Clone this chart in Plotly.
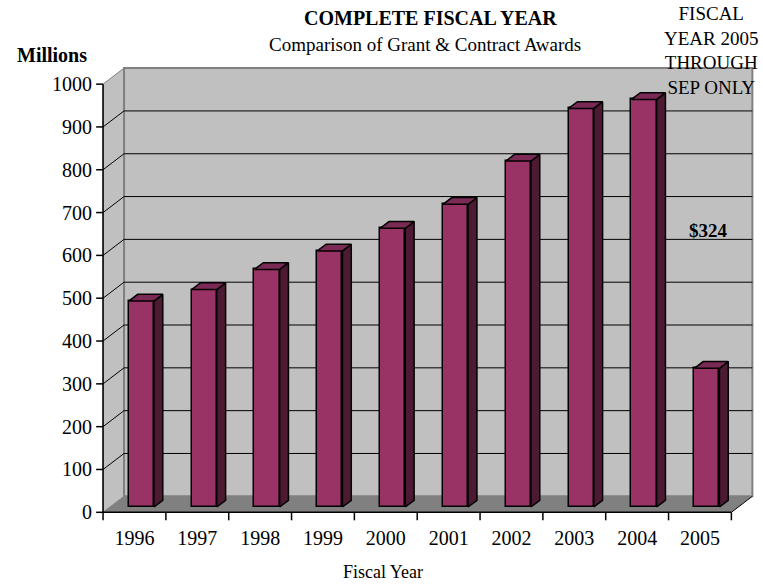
import plotly.graph_objects as go

# ---- data ----
years = ["1996", "1997", "1998", "1999", "2000", "2001", "2002", "2003", "2004", "2005"]
awards = [481, 508, 555, 598, 651, 707, 808, 931, 952, 324]
y_ticks = [0, 100, 200, 300, 400, 500, 600, 700, 800, 900, 1000]
grid_vals = [100, 200, 300, 400, 500, 600, 700, 800, 900]

# ---- pseudo-3D geometry (in data units) ----
DX = 0.334      # depth offset in category units
DY = 37.4       # depth offset in value units
D0, D1 = 0.33, 0.75   # bar depth span (fraction of full depth)
BW = 0.40       # bar width (category units)
N = len(years)
YMAX = 1000

FRONT = "#993366"
SIDE = "#4D1A33"
TOP = "#7A2A55"
WALL = "#C0C0C0"
FLOOR = "#808080"
FONT = "Liberation Serif"

W, H = 763, 584
L, T = 93, 67
R = W - 753.6
B = H - 522.7
PW, PH = W - L - R, H - T - B


def px(x, y):
    return (x - L) / PW, (H - B - y) / PH


shapes = []
# left side wall
shapes.append(dict(type="path", layer="below",
                   path=f"M0,0 L{DX},{DY} L{DX},{YMAX + DY} L0,{YMAX} Z",
                   fillcolor=WALL, line=dict(color="#808080", width=1)))
# back wall
shapes.append(dict(type="rect", layer="below", x0=DX, y0=DY, x1=N + DX, y1=YMAX + DY,
                   fillcolor=WALL, line=dict(color="#808080", width=2)))
# floor
shapes.append(dict(type="path", layer="below",
                   path=f"M0,0 L{N},0 L{N + DX},{DY} L{DX},{DY} Z",
                   fillcolor=FLOOR, line=dict(width=0)))
shapes.append(dict(type="line", layer="below", x0=N, y0=0, x1=N + DX, y1=DY,
                   line=dict(color="black", width=1)))
# gridlines
for v in grid_vals:
    shapes.append(dict(type="line", layer="below", x0=0, y0=v, x1=DX, y1=v + DY,
                       line=dict(color="black", width=1)))
    shapes.append(dict(type="line", layer="below", x0=DX, y0=v + DY, x1=N + DX, y1=v + DY,
                       line=dict(color="black", width=1)))
# axis lines
shapes.append(dict(type="line", x0=0, y0=0, x1=0, y1=YMAX, line=dict(color="black", width=1.5)))
shapes.append(dict(type="line", x0=0, y0=0, x1=N, y1=0, line=dict(color="black", width=1.5)))
# tick marks
for v in y_ticks:
    shapes.append(dict(type="line", x0=-0.11, y0=v, x1=0, y1=v, line=dict(color="black", width=1.5)))
for i in range(N + 1):
    shapes.append(dict(type="line", x0=i, y0=0, x1=i, y1=-18.7, line=dict(color="black", width=1.5)))

fig = go.Figure()

# front faces
centers = [i + 0.5 for i in range(N)]
fig.add_trace(go.Bar(
    x=[c + D0 * DX for c in centers], y=awards, base=[D0 * DY] * N, width=BW,
    marker=dict(color=FRONT, line=dict(color="black", width=1.5)),
    hoverinfo="skip", showlegend=False))

# side and top faces
ddx, ddy = (D1 - D0) * DX, (D1 - D0) * DY
sx, sy, tx, ty = [], [], [], []
for c, v in zip(centers, awards):
    xl = c + D0 * DX - BW / 2
    xr = c + D0 * DX + BW / 2
    yb = D0 * DY
    yt = v + D0 * DY
    sx += [xr, xr + ddx, xr + ddx, xr, xr, None]
    sy += [yb, yb + ddy, yt + ddy, yt, yb, None]
    tx += [xl, xr, xr + ddx, xl + ddx, xl, None]
    ty += [yt, yt, yt + ddy, yt + ddy, yt, None]
fig.add_trace(go.Scatter(x=sx, y=sy, mode="lines", fill="toself", fillcolor=SIDE,
                         line=dict(color="black", width=1.5), hoverinfo="skip", showlegend=False))
fig.add_trace(go.Scatter(x=tx, y=ty, mode="lines", fill="toself", fillcolor=TOP,
                         line=dict(color="black", width=1.5), hoverinfo="skip", showlegend=False))

annotations = []


def add_text(text, xpx, ypx, size, xanchor="center"):
    x, y = px(xpx, ypx)
    annotations.append(dict(text=text, x=x, y=y, xref="paper", yref="paper", showarrow=False,
                            xanchor=xanchor, yanchor="middle",
                            font=dict(family=FONT, size=size, color="black")))


add_text("<b>COMPLETE FISCAL YEAR</b>", 430, 18, 20)
add_text("Comparison of Grant &amp; Contract Awards", 425, 45, 19)
add_text("<b>Millions</b>", 52, 55, 20)
add_text("FISCAL<br>YEAR 2005<br>THROUGH<br>SEP ONLY", 711, 51, 19)
add_text("<b>$324</b>", 708, 230, 19)
add_text("Fiscal Year", 383, 572, 18)

fig.update_layout(
    width=W, height=H,
    margin=dict(l=L, r=R, t=T, b=B, pad=0),
    paper_bgcolor="white", plot_bgcolor="white",
    shapes=shapes, annotations=annotations,
    bargap=0,
    xaxis=dict(range=[-0.16, N + 0.36], showgrid=False, zeroline=False, showline=False,
               tickmode="array", tickvals=centers, ticktext=years, ticks="",
               ticklabelstandoff=1,
               tickfont=dict(family=FONT, size=20, color="black"), fixedrange=True),
    yaxis=dict(range=[-25, 1040], showgrid=False, zeroline=False, showline=False,
               tickmode="array", tickvals=y_ticks, ticks="",
               tickfont=dict(family=FONT, size=20, color="black"), fixedrange=True),
    font=dict(family=FONT, color="black"),
)

# remove the default page margin so the figure fills the window exactly
fig.write_html("out.html", config={"displayModeBar": False},
               post_script="document.body.style.margin='0';document.body.style.overflow='hidden';")
